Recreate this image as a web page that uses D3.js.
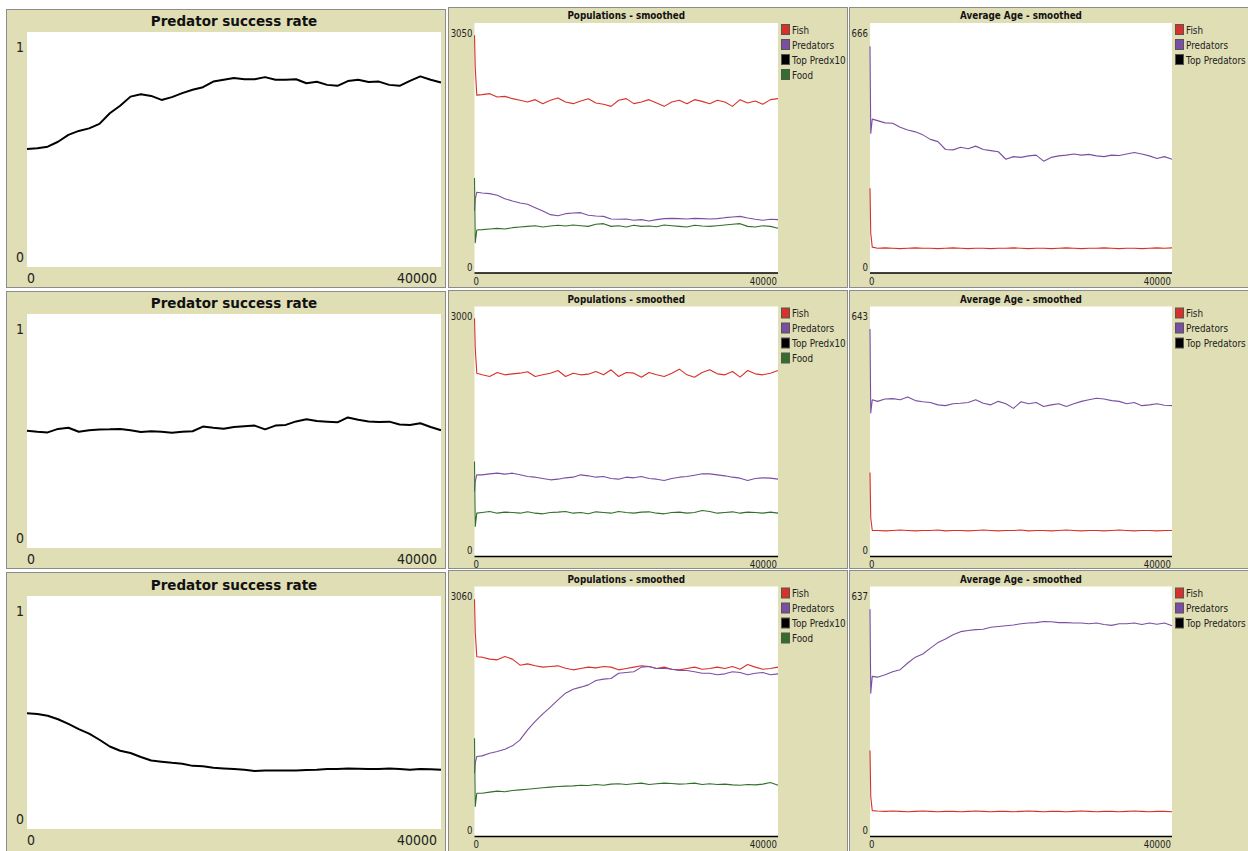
<!DOCTYPE html>
<html>
<head>
<meta charset="utf-8">
<script src="https://cdn.jsdelivr.net/npm/d3@7"></script>
<style>
  body { margin: 0; background: #fff; }
  svg { display: block; }
  text { font-family: "DejaVu Sans", sans-serif; }
</style>
</head>
<body>
<svg id="chart" width="1248" height="851"></svg>
<script>
// sample times (ticks)
const ticksCoarse = [0, 1000, 2000, 3000, 4000, 5000, 6000, 7000, 8000, 9000, 10000,
  11000, 12000, 13000, 14000, 15000, 16000, 17000, 18000, 19000, 20000,
  21000, 22000, 23000, 24000, 25000, 26000, 27000, 28000, 29000, 30000,
  31000, 32000, 33000, 34000, 35000, 36000, 37000, 38000, 39000, 40000];
const ticksFine = [0, 100, 300].concat(ticksCoarse.slice(1));
const ticksFlat = [0, 40000];

const xMax = 40000;
const popMax = [3050, 3000, 3060];
const ageMax = [666, 643, 637];

// predator success rate
const successTop = [0.502, 0.505, 0.512, 0.533, 0.562, 0.579, 0.590, 0.609, 0.654, 0.686, 0.725, 0.735, 0.728, 0.711, 0.723, 0.740, 0.754, 0.765, 0.789, 0.797, 0.804, 0.799, 0.799, 0.808, 0.797, 0.797, 0.799, 0.782, 0.788, 0.775, 0.771, 0.791, 0.797, 0.787, 0.789, 0.775, 0.771, 0.792, 0.811, 0.797, 0.785];
const successMid = [0.501, 0.497, 0.494, 0.509, 0.514, 0.497, 0.503, 0.506, 0.507, 0.509, 0.503, 0.496, 0.499, 0.497, 0.493, 0.497, 0.499, 0.519, 0.514, 0.510, 0.517, 0.520, 0.523, 0.507, 0.523, 0.526, 0.541, 0.550, 0.543, 0.540, 0.537, 0.558, 0.548, 0.541, 0.538, 0.540, 0.528, 0.526, 0.533, 0.517, 0.503];
const successBot = [0.497, 0.494, 0.486, 0.471, 0.451, 0.429, 0.409, 0.383, 0.354, 0.336, 0.326, 0.309, 0.294, 0.289, 0.284, 0.280, 0.271, 0.269, 0.263, 0.260, 0.257, 0.254, 0.249, 0.251, 0.251, 0.251, 0.251, 0.253, 0.254, 0.257, 0.257, 0.260, 0.259, 0.257, 0.257, 0.260, 0.257, 0.254, 0.257, 0.256, 0.254];

// populations - smoothed
const fishPopTop = [2900, 2500, 2170, 2176, 2188, 2147, 2155, 2127, 2107, 2086, 2115, 2066, 2107, 2135, 2086, 2066, 2098, 2127, 2074, 2058, 2033, 2107, 2127, 2066, 2086, 2115, 2074, 2033, 2086, 2107, 2066, 2115, 2094, 2066, 2107, 2086, 2033, 2115, 2074, 2098, 2058, 2115, 2127];
const predPopTop = [760, 900, 985, 976, 968, 948, 907, 878, 854, 838, 797, 756, 712, 699, 724, 732, 736, 704, 695, 691, 659, 655, 659, 643, 651, 634, 651, 663, 667, 663, 659, 667, 663, 659, 663, 675, 683, 691, 671, 655, 643, 655, 651];
const foodPopTop = [1160, 370, 525, 529, 537, 545, 537, 553, 561, 569, 577, 561, 573, 582, 573, 586, 577, 569, 594, 602, 569, 577, 561, 582, 569, 573, 565, 586, 577, 569, 561, 582, 573, 569, 577, 586, 594, 602, 569, 561, 577, 569, 545];

const fishPopMid = [2860, 2500, 2200, 2180, 2160, 2208, 2180, 2192, 2200, 2216, 2160, 2180, 2200, 2232, 2160, 2200, 2180, 2188, 2220, 2180, 2240, 2160, 2208, 2200, 2152, 2208, 2180, 2160, 2200, 2248, 2180, 2152, 2208, 2240, 2192, 2180, 2220, 2152, 2232, 2192, 2180, 2200, 2232];
const predPopMid = [780, 900, 980, 980, 992, 1000, 988, 1000, 980, 960, 952, 936, 920, 928, 944, 952, 980, 968, 952, 960, 936, 928, 952, 944, 960, 936, 928, 912, 936, 952, 960, 976, 992, 992, 980, 968, 952, 940, 912, 936, 944, 940, 928];
const foodPopMid = [1140, 360, 520, 528, 540, 520, 532, 528, 520, 536, 520, 512, 528, 532, 540, 520, 528, 512, 536, 528, 520, 540, 528, 520, 532, 536, 520, 512, 528, 532, 520, 528, 552, 540, 520, 528, 536, 520, 532, 528, 520, 532, 520];

const fishPopBot = [2905, 2500, 2200, 2195, 2171, 2162, 2203, 2171, 2097, 2113, 2089, 2073, 2081, 2089, 2060, 2040, 2056, 2073, 2064, 2081, 2073, 2040, 2056, 2073, 2089, 2081, 2056, 2073, 2048, 2040, 2056, 2073, 2048, 2056, 2073, 2056, 2081, 2048, 2105, 2073, 2048, 2056, 2073];
const predPopBot = [775, 900, 980, 987, 1020, 1040, 1069, 1110, 1183, 1306, 1408, 1501, 1583, 1673, 1754, 1803, 1828, 1856, 1909, 1926, 1934, 1999, 2007, 2016, 2073, 2081, 2056, 2060, 2048, 2032, 2032, 2016, 1999, 1999, 1979, 1991, 2016, 2007, 1979, 1999, 2007, 1979, 1991];
const foodPopBot = [1204, 367, 530, 530, 543, 555, 547, 563, 571, 579, 588, 596, 604, 612, 616, 620, 628, 624, 636, 628, 641, 645, 636, 645, 653, 636, 645, 653, 649, 641, 645, 653, 636, 645, 636, 641, 632, 628, 636, 632, 641, 661, 628];

// top predators stay at zero in every run
const topPredZero = [0, 0];

// average age - smoothed
const fishAgeTop = [226, 106, 69, 66, 67, 66, 65, 66, 67, 66, 66, 65, 66, 67, 66, 65, 66, 66, 65, 66, 66, 67, 66, 65, 66, 66, 65, 66, 67, 66, 65, 66, 66, 67, 66, 65, 66, 66, 65, 66, 67, 66, 67];
const predAgeTop = [604, 372, 410, 406, 400, 399, 388, 381, 376, 368, 356, 350, 329, 328, 335, 331, 338, 329, 326, 323, 303, 310, 308, 312, 314, 298, 308, 312, 314, 317, 314, 316, 312, 310, 314, 313, 317, 321, 317, 312, 305, 310, 303];

const fishAgeMid = [216, 99, 67, 67, 66, 67, 68, 67, 66, 67, 67, 68, 66, 67, 67, 66, 67, 68, 67, 66, 67, 67, 68, 66, 67, 67, 66, 67, 68, 67, 66, 67, 67, 66, 67, 68, 67, 66, 67, 67, 66, 67, 67];
const predAgeMid = [585, 369, 403, 399, 405, 406, 403, 410, 401, 398, 396, 390, 388, 393, 394, 396, 403, 394, 390, 399, 393, 381, 398, 393, 396, 386, 390, 393, 386, 393, 399, 403, 407, 405, 401, 399, 393, 396, 388, 390, 393, 389, 388];

const fishAgeBot = [219, 102, 66, 65, 64, 65, 64, 63, 64, 65, 64, 63, 64, 64, 63, 64, 65, 64, 63, 64, 64, 63, 64, 65, 64, 63, 64, 64, 63, 64, 65, 64, 63, 64, 64, 63, 64, 65, 64, 63, 64, 64, 63];
const predAgeBot = [579, 365, 408, 406, 412, 420, 425, 442, 457, 465, 480, 494, 503, 514, 522, 525, 527, 528, 533, 535, 537, 539, 542, 544, 545, 548, 547, 545, 545, 544, 544, 542, 544, 540, 538, 542, 542, 544, 540, 544, 541, 544, 537];

const popLegend = ['Fish', 'Predators', 'Top Predx10', 'Food'];
const ageLegend = ['Fish', 'Predators', 'Top Predators'];

const runs = [
  { success: successTop, fish: fishPopTop, pred: predPopTop, food: foodPopTop, popMax: popMax[0], fishAge: fishAgeTop, predAge: predAgeTop, ageMax: ageMax[0] },
  { success: successMid, fish: fishPopMid, pred: predPopMid, food: foodPopMid, popMax: popMax[1], fishAge: fishAgeMid, predAge: predAgeMid, ageMax: ageMax[1] },
  { success: successBot, fish: fishPopBot, pred: predPopBot, food: foodPopBot, popMax: popMax[2], fishAge: fishAgeBot, predAge: predAgeBot, ageMax: ageMax[2] }
];

const colors = { fish: '#d7312a', pred: '#7a4fa3', top: '#000000', food: '#326f2b' };
const khaki = '#dfdeb5';

// layout of the three columns of plot widgets
const colBig = {
  x0: 6.5, x1: 445.5, plotX0: 27, plotX1: 441,
  panelY: [[9.5, 287.5], [291.5, 568.5], [572.5, 856]],
  plotY: [[32, 267], [314, 548], [596, 829]]
};
const colPop = {
  x0: 448.5, x1: 847.5, plotX0: 474.5, plotX1: 778,
  panelY: [[7.5, 287.5], [290.5, 568.5], [570.5, 856]],
  plotY: [[23, 273], [306.5, 556.5], [586.5, 836.5]]
};
const colAge = {
  x0: 849.5, x1: 1254, plotX0: 870, plotX1: 1172,
  panelY: [[7.5, 287.5], [290.5, 568.5], [570.5, 856]],
  plotY: [[23, 273], [306.5, 556.5], [586.5, 836.5]]
};

const svg = d3.select('#chart');

function label(g, x, y, str, o) {
  g.append('text')
    .attr('transform', `translate(${x},${y}) scale(${o.sx || 1},1)`)
    .attr('text-anchor', o.anchor || 'start')
    .attr('font-size', o.size)
    .attr('font-weight', o.bold ? 'bold' : 'normal')
    .attr('fill', o.fill || '#222')
    .text(str);
}

function drawPanel(col, r, opt) {
  const g = svg.append('g');
  const [py0, py1] = col.panelY[r];
  const [top, bottom] = col.plotY[r];
  const w = col.plotX1 - col.plotX0;
  const h = bottom - top;

  g.append('rect')
    .attr('x', col.x0).attr('y', py0)
    .attr('width', col.x1 - col.x0).attr('height', py1 - py0)
    .attr('fill', khaki).attr('stroke', '#8c8c8c');

  g.append('rect')
    .attr('x', col.plotX0).attr('y', top)
    .attr('width', w).attr('height', h)
    .attr('fill', '#fff');

  const x = d3.scaleLinear().domain([0, xMax]).range([0, w]);
  const y = d3.scaleLinear().domain([0, opt.yMax]).range([h, 0]);

  const plot = g.append('g').attr('transform', `translate(${col.plotX0},${top})`);
  const line = d3.line().x(d => x(d[0])).y(d => y(d[1]));

  opt.series.forEach(s => {
    plot.append('path')
      .datum(d3.zip(s.t, s.v))
      .attr('fill', 'none')
      .attr('stroke', s.color)
      .attr('stroke-width', s.width)
      .attr('stroke-linejoin', 'round')
      .attr('d', line);
  });

  const cx = col.plotX0 + w / 2;
  const t = opt.text;
  label(g, cx, top - t.titleUp, opt.title, { anchor: 'middle', size: t.titleSize, bold: true, sx: t.sx, fill: '#111' });
  label(g, col.plotX0 - t.yPad, top + t.maxDown, opt.yLabel, { anchor: 'end', size: t.tickSize, sx: t.tsx });
  label(g, col.plotX0 - t.yPad, bottom - t.zeroUp, '0', { anchor: 'end', size: t.tickSize, sx: t.tsx });
  label(g, col.plotX0 + t.x0Pad, bottom + t.xDown, '0', { anchor: 'start', size: t.tickSize, sx: t.tsx });
  label(g, col.plotX1 - t.xEndPad, bottom + t.xDown, String(xMax), { anchor: 'end', size: t.tickSize, sx: t.tsx });

  if (opt.legend) {
    opt.legend.forEach((name, i) => {
      g.append('rect')
        .attr('x', col.plotX1 + 3.5).attr('y', top + 1.5 + i * 15)
        .attr('width', 8).attr('height', 10)
        .attr('fill', opt.legendColors[i])
        .attr('stroke', '#555');
      label(g, col.plotX1 + 14, top + 10.5 + i * 15, name, { size: 11, sx: 0.8, fill: '#222' });
    });
  }
}

const bigText = { titleSize: 13.5, sx: 1, titleUp: 6, tickSize: 13.5, tsx: 0.93, yPad: 3, maxDown: 20, zeroUp: 5, x0Pad: 0, xEndPad: 4, xDown: 16 };
const smallText = { titleSize: 11, sx: 0.8, titleUp: 4, tickSize: 10, tsx: 0.86, yPad: 2, maxDown: 13.5, zeroUp: 2.5, x0Pad: -1, xEndPad: 1, xDown: 11.5 };

runs.forEach((run, r) => {
  drawPanel(colBig, r, {
    title: 'Predator success rate', yMax: 1, yLabel: '1', text: bigText,
    series: [{ t: ticksCoarse, v: run.success, color: '#000', width: 2 }]
  });

  drawPanel(colPop, r, {
    title: 'Populations - smoothed', yMax: run.popMax, yLabel: String(run.popMax), text: smallText,
    series: [
      { t: ticksFine, v: run.fish, color: colors.fish, width: 1.1 },
      { t: ticksFine, v: run.pred, color: colors.pred, width: 1.1 },
      { t: ticksFlat, v: topPredZero, color: colors.top, width: 1.5 },
      { t: ticksFine, v: run.food, color: colors.food, width: 1.1 }
    ],
    legend: popLegend,
    legendColors: [colors.fish, colors.pred, colors.top, colors.food]
  });

  drawPanel(colAge, r, {
    title: 'Average Age - smoothed', yMax: run.ageMax, yLabel: String(run.ageMax), text: smallText,
    series: [
      { t: ticksFine, v: run.fishAge, color: colors.fish, width: 1.1 },
      { t: ticksFine, v: run.predAge, color: colors.pred, width: 1.1 },
      { t: ticksFlat, v: topPredZero, color: colors.top, width: 1.5 }
    ],
    legend: ageLegend,
    legendColors: [colors.fish, colors.pred, colors.top]
  });
});
</script>
</body>
</html>
